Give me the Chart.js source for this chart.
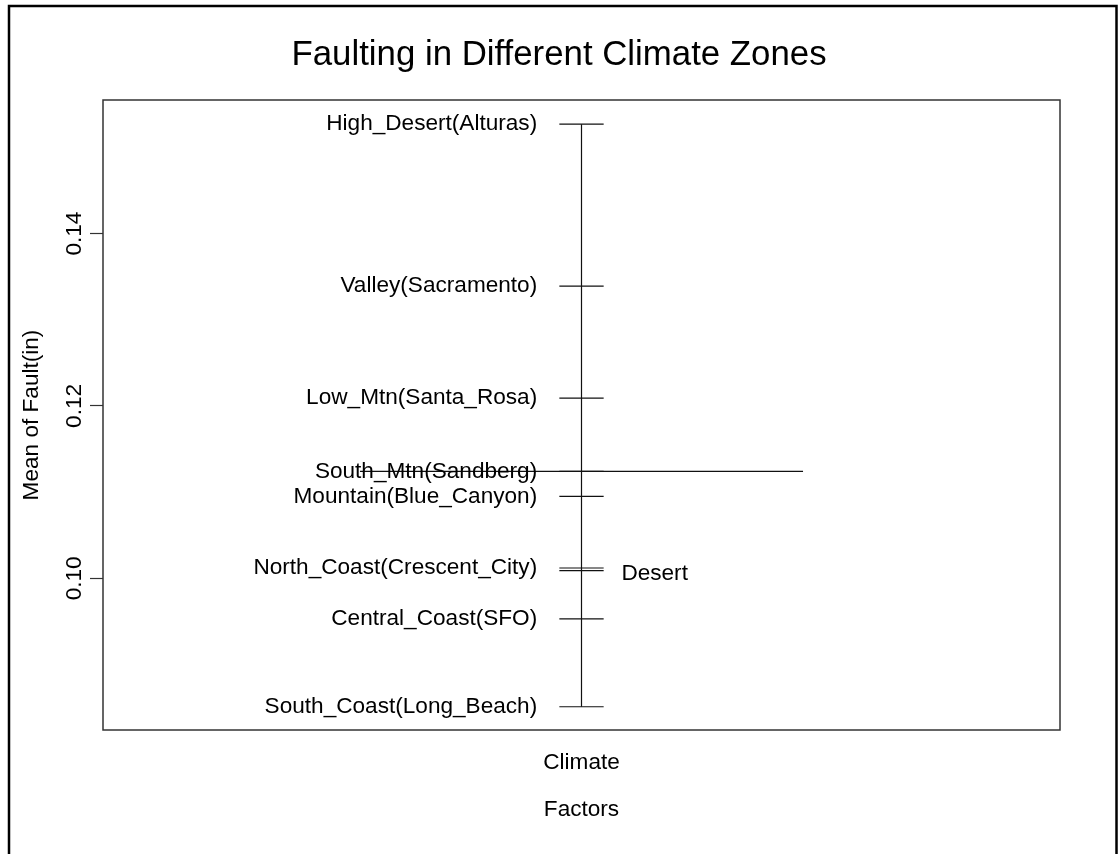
<!DOCTYPE html>
<html>
<head>
<meta charset="utf-8">
<script src="https://cdn.jsdelivr.net/npm/chart.js@4.4.0/dist/chart.umd.min.js"></script>
<style>
  html, body { margin: 0; padding: 0; background: #fff; }
  #wrap { width: 1118px; height: 854px; }
</style>
</head>
<body>
<div id="wrap"><canvas id="designChart" width="1118" height="854"></canvas></div>
<script>
// levels of the Climate factor and their mean fault (in)
const levels = ['High_Desert(Alturas)', 'Valley(Sacramento)', 'Low_Mtn(Santa_Rosa)', 'South_Mtn(Sandberg)',
  'Mountain(Blue_Canyon)', 'North_Coast(Crescent_City)', 'Desert', 'Central_Coast(SFO)', 'South_Coast(Long_Beach)'];
const levelMeans = [0.1527, 0.1339, 0.1209, 0.1124, 0.1095, 0.1012, 0.1009, 0.0953, 0.0851];
const grandMean = 0.1124;
const yTicks = [0.10, 0.12, 0.14];
const factorName = 'Climate';

const FONT = '"Liberation Sans", Arial, Helvetica, sans-serif';
const INK = '#111';
const rightLabels = ['Desert'];

// factor sits at x = 1, level ticks are short horizontal segments
const datasets = [];
datasets.push({
  data: [{ x: 1, y: Math.min(...levelMeans) }, { x: 1, y: Math.max(...levelMeans) }]
});
levelMeans.forEach(v => {
  datasets.push({ data: [{ x: 0.975, y: v }, { x: 1.025, y: v }] });
});
// overall mean
datasets.push({ data: [{ x: 0.75, y: grandMean }, { x: 1.25, y: grandMean }] });
datasets.forEach(d => {
  d.showLine = true;
  d.pointRadius = 0;
  d.borderColor = INK;
  d.borderWidth = 1.2;
});

const decor = {
  id: 'decor',
  afterDraw(chart) {
    const { ctx, chartArea: a, scales: { x, y } } = chart;
    ctx.save();

    // frame round the figure
    ctx.strokeStyle = '#000';
    ctx.lineWidth = 2.5;
    ctx.strokeRect(9, 6, 1107.5, 900);

    // plot box
    ctx.strokeStyle = '#333';
    ctx.lineWidth = 1.5;
    ctx.strokeRect(a.left, a.top, a.right - a.left, a.bottom - a.top);

    ctx.fillStyle = '#000';

    // title
    ctx.font = '34.8px ' + FONT;
    ctx.textAlign = 'center';
    ctx.textBaseline = 'alphabetic';
    ctx.fillText('Faulting in Different Climate Zones', chart.width / 2, 65);

    // level names
    ctx.font = '22.6px ' + FONT;
    ctx.textBaseline = 'middle';
    levels.forEach((name, i) => {
      const py = y.getPixelForValue(levelMeans[i]);
      if (rightLabels.includes(name)) {
        ctx.textAlign = 'left';
        ctx.fillText(name, x.getPixelForValue(1.045), py + 3);
      } else {
        ctx.textAlign = 'right';
        ctx.fillText(name, x.getPixelForValue(0.95), py);
      }
    });

    // factor name and x title
    ctx.textAlign = 'center';
    ctx.fillText(factorName, x.getPixelForValue(1), a.bottom + 33);
    ctx.fillText('Factors', x.getPixelForValue(1), a.bottom + 80);

    // rotated y tick labels
    ctx.textBaseline = 'alphabetic';
    yTicks.forEach(t => {
      ctx.save();
      ctx.translate(81, y.getPixelForValue(t));
      ctx.rotate(-Math.PI / 2);
      ctx.fillText(t.toFixed(2), 0, 0);
      ctx.restore();
    });

    // y title
    ctx.save();
    ctx.translate(38, (a.top + a.bottom) / 2);
    ctx.rotate(-Math.PI / 2);
    ctx.fillText('Mean of Fault(in)', 0, 0);
    ctx.restore();

    ctx.restore();
  }
};

const ctxDesign = document.getElementById('designChart').getContext('2d');
const designChart = new Chart(ctxDesign, {
  type: 'scatter',
  data: { datasets: datasets },
  options: {
    responsive: false,
    animation: false,
    layout: { padding: { top: 100, right: 58, bottom: 124, left: 0 } },
    plugins: {
      legend: { display: false },
      tooltip: { enabled: false }
    },
    scales: {
      x: {
        type: 'linear',
        display: false,
        min: 0.46,
        max: 1.54
      },
      y: {
        type: 'linear',
        min: 0.0824,
        max: 0.1555,
        afterBuildTicks: scale => {
          scale.ticks = yTicks.map(v => ({ value: v }));
        },
        afterFit: scale => {
          scale.width = 103;
        },
        ticks: { display: false },
        border: { display: false },
        grid: {
          drawOnChartArea: false,
          drawTicks: true,
          tickLength: 13,
          tickColor: '#333',
          tickWidth: 1.2
        }
      }
    }
  },
  plugins: [decor]
});
</script>
</body>
</html>
